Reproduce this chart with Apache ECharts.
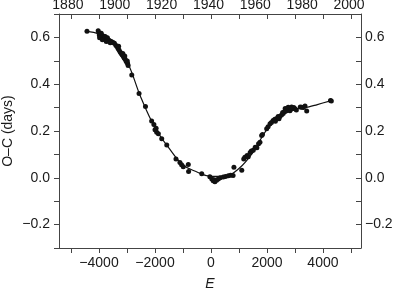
<!DOCTYPE html>
<html>
<head>
<meta charset="utf-8">
<script src="https://cdn.jsdelivr.net/npm/echarts@6/dist/echarts.min.js"></script>
<style>
  html, body { margin: 0; padding: 0; background: #fff; }
  #main { width: 397px; height: 289px; }
</style>
</head>
<body>
<div id="main"></div>
<script>
// 拟合曲线 (E, O-C)
var curveE = [-4430, -4000, -3500, -3000, -2500, -2000, -1500, -1000, -500, 0, 500, 1000, 1500, 2000, 2500, 3000, 3500, 3800, 4300];
var curveOC = [0.626, 0.615, 0.583, 0.497, 0.342, 0.214, 0.127, 0.055, 0.025, 0.006, 0.007, 0.040, 0.109, 0.207, 0.264, 0.293, 0.303, 0.313, 0.330];

// 观测点
var obsE = [
  -4430, -4030, -4000, -3990, -3960, -3940, -3900, -3870, -3850, -3800, -3760, -3720, -3680, -3620, -3560,
  -3500, -3450, -3400, -3360, -3320, -3280, -3240, -3200, -3170, -3130, -3100, -3070, -3040, -3010, -2980, -2960,
  -3980, -3920, -3880, -3780, -3740, -3700, -3600, -3300, -3150, -3080, -2990,
  -2830, -2570, -2340, -2120, -2040, -2000, -1960, -1940, -1880, -1760, -1580, -1250, -1110, -1050, -990, -810, -800,
  -330, -40, 30, 80, 140, 120, 200, 260, 330, 440, 520, 620, 700, 790, 820, 1100,
  1170, 1210, 1290, 1330, 1400, 1440, 1510, 1580, 1640, 1700, 1750, 1810, 1840, 1990, 2040, 2110, 2160, 2220, 2280,
  2350, 2400, 2460, 2520, 2580, 2620, 2650, 2700, 2760, 2800, 2820, 2880, 2920, 2960, 3000, 3050, 3190, 3240, 3300,
  2300, 2430, 2560, 2680, 2740, 2860,
  3360, 3420, 4270, 4300
];
var obsOC = [
  0.626, 0.628, 0.620, 0.610, 0.604, 0.615, 0.600, 0.597, 0.606, 0.595, 0.590, 0.592, 0.585, 0.586, 0.583,
  0.578, 0.575, 0.566, 0.561, 0.553, 0.545, 0.537, 0.530, 0.525, 0.518, 0.512, 0.508, 0.500, 0.494, 0.488, 0.480,
  0.598, 0.618, 0.590, 0.604, 0.583, 0.598, 0.577, 0.562, 0.531, 0.520, 0.499,
  0.439, 0.360, 0.305, 0.243, 0.228, 0.205, 0.212, 0.195, 0.188, 0.167, 0.140, 0.080, 0.065, 0.056, 0.047, 0.057, 0.027,
  0.017, 0.004, -0.005, -0.013, -0.017, -0.008, -0.010, -0.005, 0.000, 0.003, 0.006, 0.009, 0.011, 0.010, 0.045, 0.032,
  0.080, 0.088, 0.095, 0.090, 0.108, 0.115, 0.118, 0.131, 0.128, 0.145, 0.152, 0.181, 0.185, 0.210, 0.218, 0.231, 0.236, 0.245, 0.250,
  0.253, 0.262, 0.262, 0.268, 0.275, 0.282, 0.296, 0.290, 0.302, 0.292, 0.287, 0.303, 0.296, 0.300, 0.295, 0.290, 0.303, 0.302, 0.300,
  0.242, 0.252, 0.279, 0.285, 0.298, 0.293,
  0.307, 0.286, 0.330, 0.328
];

// 刻度
var eTicks = [-5000, -4000, -3000, -2000, -1000, 0, 1000, 2000, 3000, 4000, 5000];
var eLabels = [-4000, -2000, 0, 2000, 4000];
var yearLabels = [1880, 1900, 1920, 1940, 1960, 1980, 2000];
var ocLabels = [-0.2, 0.0, 0.2, 0.4, 0.6];

var font = 'Liberation Sans, Arial, Helvetica, sans-serif';
var ink = '#1a1a1a';
var axisCol = '#444';

function minus(s) {
  return String(s).replace('-', '\u2212');
}

var curveData = curveE.map(function(e, i) { return [e, curveOC[i]]; });
var obsData = obsE.map(function(e, i) { return [e, obsOC[i]]; });

var myChart = echarts.init(document.getElementById('main'), null, { renderer: 'canvas' });

var option = {
  animation: false,
  backgroundColor: '#fff',
  grid: { left: 59, right: 36, top: 14, bottom: 41, containLabel: false, outerBoundsMode: 'none' },
  xAxis: [{
    type: 'value',
    position: 'bottom',
    min: -5430,
    max: 5360,
    name: 'E',
    nameLocation: 'middle',
    nameGap: 29,
    nameMoveOverlap: false,
    nameTextStyle: { fontFamily: font, fontSize: 14, fontStyle: 'italic', color: ink },
    axisLine: { show: true, onZero: false, lineStyle: { color: axisCol, width: 1 } },
    axisTick: { show: true, inside: false, length: 5, customValues: eTicks, lineStyle: { color: axisCol } },
    axisLabel: {
      customValues: eLabels, margin: 8, fontFamily: font, fontSize: 14, color: ink,
      formatter: function(v) { return minus(v); }
    },
    splitLine: { show: false }
  }, {
    type: 'value',
    position: 'top',
    min: -5430,
    max: 5360,
    axisLine: { show: true, onZero: false, lineStyle: { color: axisCol, width: 1 } },
    axisTick: { show: true, inside: true, length: 5, customValues: eTicks, lineStyle: { color: axisCol } },
    axisLabel: { show: false },
    splitLine: { show: false }
  }, {
    type: 'value',
    position: 'top',
    min: 1876.2,
    max: 2005.1,
    axisLine: { show: false, onZero: false },
    axisTick: { show: false },
    axisLabel: {
      customValues: yearLabels, margin: 2, fontFamily: font, fontSize: 14, color: ink,
      formatter: function(v) { return String(v); }
    },
    splitLine: { show: false }
  }],
  yAxis: [{
    type: 'value',
    position: 'left',
    min: -0.3,
    max: 0.7,
    interval: 0.1,
    name: 'O\u2013C (days)',
    nameLocation: 'middle',
    nameGap: 44,
    nameMoveOverlap: false,
    nameTextStyle: { fontFamily: font, fontSize: 14, color: ink },
    axisLine: { show: true, onZero: false, lineStyle: { color: axisCol, width: 1 } },
    axisTick: { show: true, inside: false, length: 5, lineStyle: { color: axisCol } },
    axisLabel: {
      customValues: ocLabels, margin: 9, fontFamily: font, fontSize: 14, color: ink,
      formatter: function(v) { return minus(v.toFixed(1)); }
    },
    splitLine: { show: false }
  }, {
    type: 'value',
    position: 'right',
    min: -0.3,
    max: 0.7,
    interval: 0.1,
    axisLine: { show: true, onZero: false, lineStyle: { color: axisCol, width: 1 } },
    axisTick: { show: true, inside: true, length: 5, lineStyle: { color: axisCol } },
    axisLabel: {
      customValues: ocLabels, margin: 4, fontFamily: font, fontSize: 14, color: ink,
      formatter: function(v) { return minus(v.toFixed(1)); }
    },
    splitLine: { show: false }
  }],
  series: [{
    type: 'line',
    xAxisIndex: 0,
    yAxisIndex: 0,
    data: curveData,
    smooth: 0.4,
    showSymbol: false,
    lineStyle: { color: '#111', width: 1.2 },
    z: 2
  }, {
    type: 'scatter',
    xAxisIndex: 0,
    yAxisIndex: 0,
    data: obsData,
    symbol: 'circle',
    symbolSize: 5,
    itemStyle: { color: '#111', opacity: 1 },
    z: 3
  }]
};

myChart.setOption(option);
</script>
</body>
</html>
